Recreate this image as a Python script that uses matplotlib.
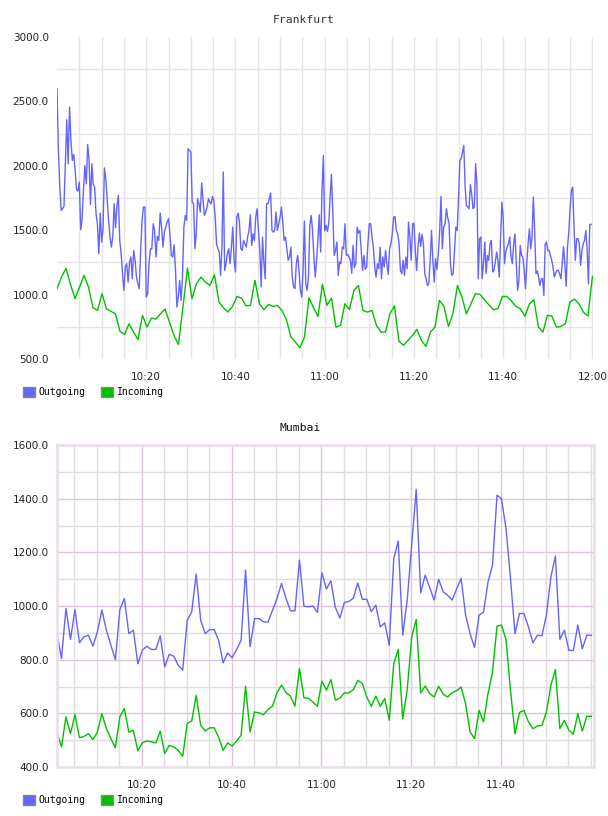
import numpy as np
import pandas as pd
import matplotlib
matplotlib.use("Agg")
import matplotlib.pyplot as plt
import matplotlib.dates as mdates
from matplotlib.patches import Patch

# Frankfurt, outgoing sampled every ~20 s, read in four half-hour chunks
fr_out_1 = [2598, 2120, 1835, 1654, 1667, 1685, 2016, 2358, 2016, 2456, 2197, 2042, 2088, 1964, 1814, 1804,
            1873, 1504, 1589, 1820, 2002, 1860, 2166, 2042, 1700, 2016, 1855, 1835, 1628, 1545, 1317, 1633,
            1407, 1504, 1984, 1899, 1731, 1576, 1447, 1369, 1447, 1706, 1519, 1693, 1770, 1421, 1317, 1162,
            1033, 1214, 1240, 1097, 1253, 1292, 1123, 1343, 1266, 1136, 1084, 1046, 1343, 1576, 1680, 1680,
            981, 1007, 1240, 1356, 1356, 1550, 1498, 1292, 1452, 1421, 1633, 1524, 1369, 1485, 1524, 1563,
            1589, 1472, 1304, 1292, 1387, 1188, 903, 981, 1110, 955, 1136, 1524, 1615, 1576, 2132, 2120]
fr_out_2 = [2107, 1718, 1705, 1356, 1472, 1744, 1705, 1641, 1866, 1744, 1615, 1641, 1680, 1744, 1718, 1705,
            1762, 1731, 1602, 1395, 1356, 1330, 1149, 1369, 1952, 1188, 1240, 1317, 1356, 1240, 1369, 1524,
            1266, 1175, 1602, 1633, 1550, 1356, 1343, 1421, 1395, 1369, 1447, 1498, 1620, 1382, 1472, 1421,
            1602, 1667, 1498, 1343, 1059, 1447, 1253, 1123, 1705, 1705, 1744, 1788, 1498, 1485, 1498, 1641,
            1498, 1550, 1602, 1680, 1563, 1421, 1447, 1356, 1266, 1292, 1369, 1136, 1059, 1046, 1240, 1304,
            1188, 1033, 981, 1188, 1571, 1084, 1033, 1136, 1537, 1615, 1498, 1292, 1136, 1266, 1434, 1620,
            1330, 1809, 2080]
fr_out_3 = [1494, 1537, 1491, 1550, 1757, 1933, 1641, 1304, 1343, 1408, 1149, 1253, 1240, 1369, 1356, 1550,
            1304, 1312, 1292, 1266, 1167, 1382, 1209, 1240, 1524, 1478, 1498, 1343, 1188, 1304, 1196, 1212,
            1408, 1550, 1550, 1447, 1369, 1214, 1136, 1240, 1201, 1369, 1123, 1292, 1214, 1343, 1240, 1157,
            1356, 1395, 1472, 1602, 1607, 1498, 1472, 1395, 1188, 1162, 1266, 1149, 1292, 1201, 1563, 1447,
            1266, 1550, 1555, 1343, 1188, 1369, 1478, 1374, 1467, 1395, 1162, 1123, 1071, 1084, 1266, 1498,
            1266, 1097, 1279, 1196, 1317, 1485, 1762, 1356, 1524, 1550, 1667, 1597, 1550, 1240, 1149, 1162,
            1343, 1524, 1498]
fr_out_4 = [1757, 2042, 2055, 2107, 2158, 1835, 1693, 1680, 1667, 1855, 1783, 1667, 1680, 2016, 1860, 1123,
            1434, 1447, 1123, 1240, 1408, 1162, 1304, 1266, 1395, 1421, 1175, 1188, 1253, 1330, 1266, 1136,
            1421, 1718, 1602, 1240, 1330, 1369, 1395, 1447, 1292, 1240, 1395, 1472, 1240, 1033, 1110, 1382,
            1304, 1292, 1188, 1046, 1240, 1395, 1511, 1356, 1447, 1757, 1498, 1162, 1183, 1136, 1071, 1123,
            1123, 994, 1395, 1408, 1343, 1343, 1304, 1266, 1214, 1136, 1167, 1188, 1188, 1162, 1123, 1240,
            1374, 1240, 1064, 1369, 1485, 1667, 1809, 1835, 1524, 1266, 1434, 1434, 1395, 1227, 1343, 1395,
            1421, 1498, 1343, 1084, 1545, 1545]

# Frankfurt incoming, one value per minute
fr_in = [1046, 1136, 1203, 1079, 968, 1058, 1149, 1058, 898, 877, 1007, 890, 870, 851, 714, 691,
         774, 709, 652, 839, 748, 818, 810, 851, 888, 787, 683, 613, 903, 1206,
         968, 1085, 1136, 1097, 1071, 1154, 941, 898, 864, 908, 986, 973, 913, 916, 1110, 929,
         883, 924, 908, 916, 877, 805, 670, 631, 587, 670, 975, 900, 830, 1080,
         917, 973, 748, 761, 929, 883, 1033, 1071, 877, 864, 877, 761, 709, 709, 851, 913,
         639, 606, 644, 683, 730, 644, 598, 709, 748, 955, 908, 753, 851, 1071,
         981, 851, 929, 1007, 1002, 960, 921, 883, 890, 986, 986, 950, 908, 890, 831, 929,
         960, 748, 709, 839, 833, 748, 753, 774, 942, 965, 929, 864, 833, 1141]

# Mumbai, one value per minute
mu_out = [897, 804, 991, 875, 987, 863, 885, 891, 850, 904, 985, 910, 854, 800, 987, 1028,
          897, 910, 785, 835, 850, 838, 838, 889, 773, 820, 813, 779, 761, 947, 978, 1119,
          947, 897, 912, 912, 872, 788, 825, 807, 838, 872, 1134, 848, 953, 953, 941, 940,
          984, 1028, 1084, 1028, 982, 982, 1171, 999, 997,
          1000, 976, 1124, 1063, 1094, 994, 955, 1013, 1017, 1029, 1086, 1025, 1025, 979, 1003, 922,
          937, 854, 1177, 1242, 891, 1022, 1229, 1435, 1049, 1115, 1069, 1022, 1100, 1053, 1040, 1022,
          1063, 1103, 966, 897, 845, 966, 977, 1090, 1152, 1413, 1399, 1289, 1103, 897, 972, 972,
          922, 863, 891, 889, 966, 1109, 1186, 876, 910, 835, 834, 929, 841, 891, 891]
mu_in = [527, 475, 587, 524, 595, 509, 514, 524, 502, 530, 599, 543, 506, 472, 587, 618,
         530, 537, 460, 490, 497, 494, 490, 533, 450, 481, 475, 462, 440, 562, 572, 667,
         556, 534, 546, 546, 511, 462, 490, 478, 497, 518, 701, 530, 605, 602, 595, 614,
         627, 677, 705, 677, 664, 627, 767, 658, 656,
         642, 626, 720, 686, 726, 649, 657, 676, 676, 688, 723, 711, 661, 626, 664, 626,
         655, 574, 785, 838, 580, 688, 885, 950, 676, 702, 674, 661, 701, 671, 661, 677,
         684, 698, 636, 531, 506, 611, 568, 674, 754, 925, 929, 875, 686, 524, 603, 611,
         568, 543, 553, 555, 605, 705, 763, 543, 574, 537, 522, 599, 534, 589, 589]

fr_xticks = ["10:20", "10:40", "11:00", "11:20", "11:40", "12:00"]
mu_xticks = ["10:20", "10:40", "11:00", "11:20", "11:40"]
fr_yticks = [500, 1000, 1500, 2000, 2500, 3000]
mu_yticks = [400, 600, 800, 1000, 1200, 1400, 1600]

day = "2013-05-01 "
t0 = pd.Timestamp(day + "10:00")
t_end = pd.Timestamp(day + "12:00")
mu_start = pd.Timestamp(day + "10:01:08")

OUT = "#6464ff"
INC = "#00c000"


def chunk_times(k, n):
    s = t0 + pd.Timedelta(minutes=30 * k)
    return pd.date_range(s, s + pd.Timedelta(minutes=30), periods=n + 1)[:-1]


fr_chunks = [fr_out_1, fr_out_2, fr_out_3, fr_out_4]
fr_out_t = np.concatenate([chunk_times(k, len(c)) for k, c in enumerate(fr_chunks)])
fr_out = np.concatenate(fr_chunks)
fr_in_t = pd.date_range(t0, t_end, periods=len(fr_in))
mu_t = pd.date_range(mu_start, periods=len(mu_out), freq="1min")
five_min = pd.date_range(t0 + pd.Timedelta(minutes=5), t_end, freq="5min")

fig = plt.figure(figsize=(6.08, 8.16), dpi=100)
ax1 = fig.add_axes([57 / 608, 1 - 359 / 816, 536 / 608, 322 / 816])
ax2 = fig.add_axes([57 / 608, 1 - 767 / 816, 537 / 608, 322 / 816])

# ---- Frankfurt
ax1.plot(fr_out_t, fr_out, color=OUT, lw=1.0)
ax1.plot(fr_in_t, fr_in, color=INC, lw=1.0)
ax1.set_xlim(t0, t_end + pd.Timedelta(seconds=8))
ax1.set_ylim(500, 3000)
for s in ax1.spines.values():
    s.set_visible(False)
ax1.set_yticks(fr_yticks)
ax1.set_yticklabels(["%.1f" % v for v in fr_yticks])
ax1.set_yticks([v + 250 for v in fr_yticks[:-1]], minor=True)
ax1.set_xticks([pd.Timestamp(day + t) for t in fr_xticks])
ax1.set_xticks(five_min, minor=True)
ax1.xaxis.set_major_formatter(mdates.DateFormatter("%H:%M"))
ax1.grid(True, axis="x", which="both", color="#e4e4e4", lw=1.0)
ax1.grid(True, axis="y", which="minor", color="#e4e4e4", lw=1.0)
ax1.set_axisbelow(True)

# ---- Mumbai
ax2.plot(mu_t, mu_out, color=OUT, lw=1.0)
ax2.plot(mu_t, mu_in, color=INC, lw=1.0)
ax2.set_xlim(mu_start, pd.Timestamp(day + "12:00:44"))
ax2.set_ylim(400, 1600)
for s in ax2.spines.values():
    s.set_color("#eadcea")
    s.set_linewidth(1.8)
ax2.set_yticks(mu_yticks)
ax2.set_yticklabels(["%.1f" % v for v in mu_yticks])
ax2.set_yticks([v + 100 for v in mu_yticks[:-1]], minor=True)
ax2.set_xticks([pd.Timestamp(day + t) for t in mu_xticks])
ax2.set_xticks(five_min, minor=True)
ax2.xaxis.set_major_formatter(mdates.DateFormatter("%H:%M"))
ax2.grid(True, which="minor", color="#e0dce0", lw=1.0)
ax2.grid(True, which="major", color="#dcc4dc", lw=1.0)
ax2.set_axisbelow(True)

for ax in (ax1, ax2):
    ax.tick_params(which="both", length=0, labelsize=7.5, colors="#222222")
    ax.tick_params(axis="y", pad=6)
    ax.tick_params(axis="x", pad=9)

mono = "DejaVu Sans Mono"
fig.text(0.5, 1 - 20 / 816, "Frankfurt", ha="center", va="center", family=mono, fontsize=8.2, color="#333333")
fig.text(0.493, 1 - 428 / 816, "Mumbai", ha="center", va="center", family=mono, fontsize=8.2, color="#111111")

handles = [Patch(facecolor=OUT, edgecolor="#888888", lw=1.0),
           Patch(facecolor=INC, edgecolor="#888888", lw=1.0)]
for ycen in (392, 800):
    fig.legend(handles, ["Outgoing", "Incoming"], loc="center left",
               bbox_to_anchor=(23 / 608, 1 - ycen / 816), ncol=2, frameon=False,
               prop={"family": mono, "size": 7}, handlelength=1.25, handleheight=1.25,
               handletextpad=0.35, columnspacing=1.6, borderpad=0, borderaxespad=0)

fig.savefig("out.png", dpi=100)
